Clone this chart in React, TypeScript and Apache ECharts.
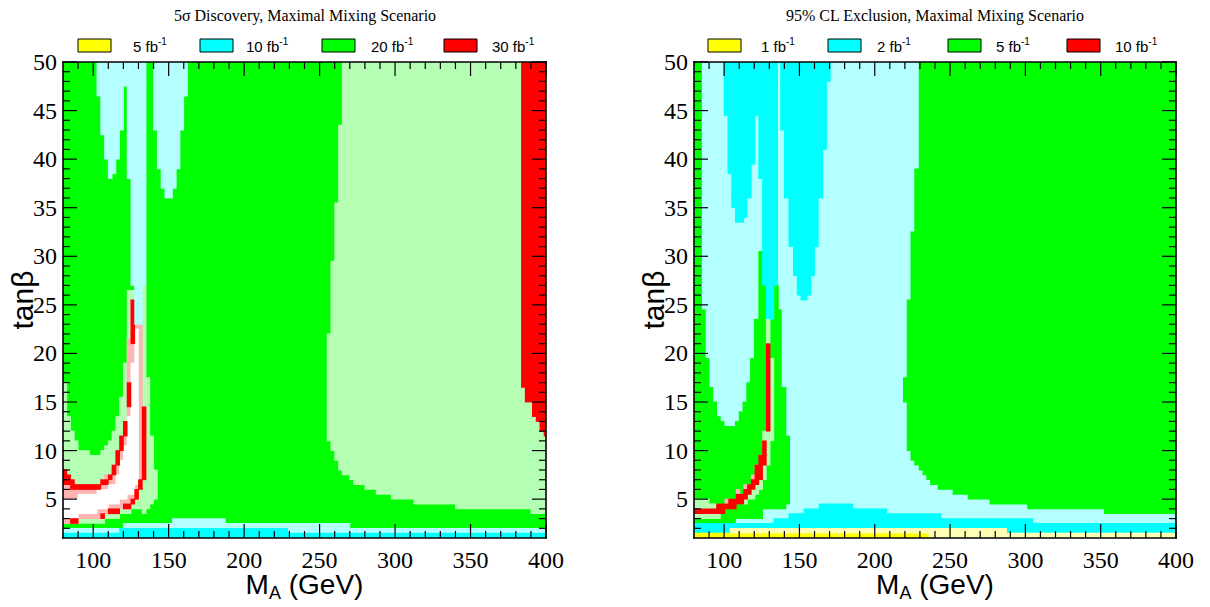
import React, { useEffect, useRef } from "react";
import * as echarts from "echarts";

// ---------- axes ----------
const X_MIN = 80;
const X_MAX = 400;
const Y_MIN = 1;
const Y_MAX = 50;
const X_MAJOR = [100, 150, 200, 250, 300, 350, 400];
const X_MINOR = [90, 110, 120, 130, 140, 160, 170, 180, 190, 210, 220, 230, 240, 260, 270, 280, 290, 310, 320, 330, 340, 360, 370, 380, 390];
const Y_MAJOR = [5, 10, 15, 20, 25, 30, 35, 40, 45, 50];
const Y_MINOR = [2, 3, 4, 6, 7, 8, 9, 11, 12, 13, 14, 16, 17, 18, 19, 21, 22, 23, 24, 26, 27, 28, 29, 31, 32, 33, 34, 36, 37, 38, 39, 41, 42, 43, 44, 46, 47, 48, 49];

const DISC_TITLE = "5σ Discovery, Maximal Mixing Scenario";
const EXCL_TITLE = "95% CL Exclusion, Maximal Mixing Scenario";
const DISC_LEGEND = ["5", "10", "20", "30"]; // fb^-1
const EXCL_LEGEND = ["1", "2", "5", "10"]; // fb^-1

// ---------- regions: [M_A from, M_A to, tanβ from, tanβ to] ----------
const DISC_GREEN = [[80, 400, 1, 50]];
const DISC_LIGHT_GREEN = [
  [265, 400, 43.5, 50], [262.5, 400, 35.5, 43.5], [260, 400, 29.5, 35.5], [257.5, 400, 22, 29.5], [255, 400, 11, 22],
  [257.5, 400, 10, 11], [260, 400, 9, 10], [262.5, 400, 8, 9], [265, 400, 7.5, 8], [270, 400, 7, 7.5], [272.5, 400, 6.5, 7],
  [280, 400, 6, 6.5], [287.5, 400, 5.5, 6], [297.5, 400, 5, 5.5], [312.5, 400, 4.5, 5], [340, 400, 4, 4.5], [390, 400, 3.5, 4],
  [80, 82.5, 2.5, 17], [82.5, 85, 2.5, 13.5], [85, 87.5, 2.5, 12], [87.5, 90, 2.5, 11], [90, 97.5, 2.5, 10], [97.5, 105, 2.5, 9.5],
  [105, 107.5, 2.5, 10], [107.5, 110, 3, 10.5], [110, 112.5, 3, 11], [112.5, 115, 3, 12], [115, 117.5, 3, 13.5], [117.5, 120, 3.5, 15.5],
  [120, 122.5, 3.5, 19], [122.5, 125, 3.5, 26.5], [125, 127.5, 4, 26.5], [127.5, 132.5, 4, 27], [132.5, 135, 3.5, 27],
  [135, 137.5, 4, 17.5], [137.5, 140, 4.5, 11.5], [140, 142.5, 5, 8],
];
const DISC_PINK = [
  [80, 82.5, 2.5, 8], [82.5, 85, 2.5, 7.5], [85, 87.5, 2.5, 7], [87.5, 90, 2.5, 6.5], [90, 105, 3, 6.5], [105, 107.5, 3, 7],
  [107.5, 112.5, 3.5, 7.5], [112.5, 115, 3.5, 8.5], [115, 117.5, 4, 10], [117.5, 120, 4, 11.5], [120, 122.5, 4, 13],
  [122.5, 125, 4, 21.5], [125, 127.5, 4.5, 25.5], [127.5, 130, 5, 23], [130, 132.5, 6, 23],
];
const DISC_WHITE = [
  [80, 90, 3, 5], [90, 102.5, 3.5, 5.5], [102.5, 110, 4, 6], [110, 115, 4.5, 6.5], [115, 117.5, 4.5, 7.5],
  [117.5, 120, 5, 9], [120, 122.5, 5, 10.5], [122.5, 125, 5.5, 13.5], [125, 127.5, 5.5, 19], [127.5, 130, 6.5, 22.5],
];
const DISC_RED = [
  [80, 82.5, 6.5, 8], [82.5, 85, 6.5, 7.5], [85, 87.5, 6, 7], [87.5, 105, 6, 6.5], [105, 110, 6.5, 7], [110, 112.5, 7, 7.5],
  [112.5, 115, 7.5, 8.5], [115, 117.5, 8.5, 10], [117.5, 120, 10, 11.5], [120, 122.5, 11.5, 13], [122.5, 125, 14.5, 17], [125, 127.5, 21, 25.5],
  [85, 90, 2.5, 3], [105, 107.5, 3, 3.5], [110, 117.5, 3.5, 4], [120, 125, 4, 4.5], [125, 127.5, 4.5, 5], [127.5, 130, 5, 6],
  [130, 132.5, 6, 7], [132.5, 135, 7, 14.5],
  [383.75, 400, 16.5, 50], [386.25, 400, 15, 16.5], [391, 400, 13.5, 15], [393.5, 400, 13, 13.5], [396, 400, 12, 13], [398.75, 400, 11.5, 12],
];
const DISC_LIGHT_CYAN = [
  [102.5, 135, 47.5, 50], [102.5, 120, 46.5, 47.5], [105, 120, 43, 46.5], [105, 117.5, 42.5, 43], [107.5, 117.5, 40, 42.5],
  [110, 115, 38.5, 40], [110, 112.5, 38, 38.5],
  [122.5, 135, 38, 47.5], [125, 135, 27, 38], [127.5, 132.5, 23, 27],
  [140, 162.5, 46.5, 50], [140, 160, 43, 46.5], [142.5, 157.5, 39, 43], [145, 155, 37, 39], [147.5, 152.5, 36, 37],
  [80, 117.5, 1.5, 2], [228.75, 400, 1.5, 2], [120, 270, 2, 2.5], [152.5, 187.5, 2.5, 3],
];
const DISC_CYAN = [[80, 400, 1, 1.5], [117.5, 228.75, 1.5, 2]];

const EXCL_LIGHT_CYAN = [[80, 400, 1, 50]];
const EXCL_GREEN = [
  [229.5, 400, 39, 50], [226.5, 400, 32.5, 39], [224, 400, 25.5, 32.5], [221.5, 400, 17.5, 25.5], [219, 400, 15, 17.5], [221.5, 400, 10, 15],
  [224, 400, 9, 10], [226.5, 400, 8.5, 9], [229.5, 400, 8, 8.5], [232, 400, 7.5, 8], [234.5, 400, 7, 7.5], [237, 400, 6.5, 7],
  [242, 400, 6, 6.5], [252, 400, 5.5, 6], [262, 400, 5, 5.5], [276.5, 400, 4.5, 5], [301.5, 400, 4, 4.5], [352.5, 400, 3.5, 4],
  [80, 85, 2.5, 50], [85, 87.5, 2.5, 24.5], [87.5, 90, 2.5, 19.5], [90, 92.5, 2.5, 16.5], [92.5, 95, 2.5, 15], [95, 97.5, 2.5, 13.5],
  [97.5, 100, 2.5, 13], [100, 107.5, 2.5, 12.5], [107.5, 110, 3, 13], [110, 112.5, 3, 14], [112.5, 115, 3, 15], [115, 117.5, 3, 17],
  [117.5, 120, 3, 19.5], [120, 123, 3, 23.5], [123, 125.5, 3, 30.5], [125.5, 128, 4, 27], [128, 133, 4, 23.5], [133, 136, 4, 27],
  [136, 138, 4, 24.5], [138, 141, 4, 16.5], [141, 143.5, 4.5, 11.5],
];
const EXCL_CYAN = [
  [100, 135.5, 44.5, 50], [102.5, 120.5, 39.5, 44.5], [102.5, 118, 38.5, 39.5], [105, 118, 36, 38.5], [105, 115, 35, 36],
  [107.5, 115, 34, 35], [107.5, 113, 33.5, 34],
  [123, 135.5, 38, 44.5], [125.5, 135.5, 27, 38], [128, 133, 23.5, 27],
  [137.5, 170.5, 48, 50], [137.5, 168, 43, 48], [140, 168, 41, 43], [140, 165.5, 36, 41], [143, 162.5, 31, 36],
  [146, 160, 28, 31], [148.5, 157.5, 26, 28], [151, 155, 25.5, 26],
  [80, 104, 1.5, 2], [287.5, 400, 1.5, 2], [80, 400, 2, 2.5], [133, 305, 2.5, 3], [143, 244, 3, 3.5],
  [153, 208, 3.5, 4], [163, 185.5, 4, 4.5],
];
const EXCL_LIGHT_GREEN = [
  [128, 130.5, 21, 23.5], [130.5, 133, 11, 19.5], [125.5, 130.5, 10.5, 12],
  [128, 130.5, 8.5, 10.5], [125.5, 128, 7, 9.5], [123, 125.5, 6, 8.5], [120.5, 123, 5.5, 7], [115.5, 120.5, 5, 6], [110, 115.5, 4.5, 5.5],
  [80, 97.5, 3, 3.5], [80, 95, 4, 4.5], [80, 90, 4.5, 5],
];
const EXCL_PINK = [
  [120.5, 123, 8, 8.5], [118, 120.5, 7, 7.5], [113, 115.5, 6, 6.5], [108, 110.5, 5.5, 6], [100.5, 103, 4.5, 5],
];
const EXCL_RED = [
  [128, 130.5, 12, 21],
  [125.5, 128, 9.5, 11], [123, 128, 8.5, 9.5], [120.5, 125.5, 7, 8.5], [118, 123, 6.5, 7], [115.5, 120.5, 6, 6.5],
  [113, 118, 5.5, 6], [108, 115.5, 5, 5.5], [103, 113, 4.5, 5], [95, 108, 4, 4.5], [80, 100.5, 3.5, 4],
];
const EXCL_YELLOW = [[80, 236, 1, 1.5]];
const EXCL_LIGHT_YELLOW = [[236, 400, 1, 1.5], [104, 287.5, 1.5, 2]];

// ---------- styles ----------
const COLORS = {
  green: "#00ff00", lightGreen: "#b4ffb4", cyan: "#00ffff", lightCyan: "#b4ffff", red: "#ff0000",
  pink: "#ffb4b4", white: "#ffffff", yellow: "#ffff00", lightYellow: "#ffffb4",
};
const SERIF = "'Liberation Serif', 'Times New Roman', serif";
const SANS = "'Liberation Sans', Arial, sans-serif";

const GRIDS = [
  { left: 63, top: 62, width: 483, height: 484 },
  { left: 694, top: 62, width: 482, height: 484 },
];

function rectSeries(data: number[][], color: string, axisIndex: number) {
  return {
    type: "custom", xAxisIndex: axisIndex, yAxisIndex: axisIndex, data,
    encode: { x: [0, 1], y: [2, 3] }, silent: true, clip: true, z: 2,
    renderItem: (_params: any, api: any) => {
      const p0 = api.coord([api.value(0), api.value(3)]);
      const p1 = api.coord([api.value(1), api.value(2)]);
      return {
        type: "rect",
        shape: { x: p0[0] - 0.4, y: p0[1] - 0.4, width: p1[0] - p0[0] + 0.8, height: p1[1] - p0[1] + 0.8 },
        style: { fill: color },
      };
    },
  };
}

// ticks (kind 0: x major, 1: x minor, 2: y major, 3: y minor) and the frame (kind 4), drawn as thin filled bars
function frameSeries(axisIndex: number) {
  const data: number[][] = [];
  X_MAJOR.forEach((v) => data.push([v, 0]));
  X_MINOR.forEach((v) => data.push([v, 1]));
  Y_MAJOR.forEach((v) => data.push([v, 2]));
  Y_MINOR.forEach((v) => data.push([v, 3]));
  data.push([0, 4]);
  return {
    type: "custom", xAxisIndex: axisIndex, yAxisIndex: axisIndex, data, silent: true, clip: false, z: 20,
    encode: { x: 0 },
    renderItem: (params: any, api: any) => {
      const cs = params.coordSys;
      const v = api.value(0);
      const kind = api.value(1);
      const fill = { fill: "#000" };
      const w = 1.2;
      const fw = 1.6;
      if (kind === 4) {
        return {
          type: "group",
          children: [
            { type: "rect", shape: { x: cs.x - fw / 2, y: cs.y - fw / 2, width: cs.width + fw, height: fw }, style: fill },
            { type: "rect", shape: { x: cs.x - fw / 2, y: cs.y + cs.height - fw / 2, width: cs.width + fw, height: fw }, style: fill },
            { type: "rect", shape: { x: cs.x - fw / 2, y: cs.y - fw / 2, width: fw, height: cs.height + fw }, style: fill },
            { type: "rect", shape: { x: cs.x + cs.width - fw / 2, y: cs.y - fw / 2, width: fw, height: cs.height + fw }, style: fill },
          ],
        };
      }
      if (kind <= 1) {
        const len = kind === 0 ? 14 : 7;
        const px = api.coord([v, Y_MIN])[0];
        const yb = cs.y + cs.height;
        return {
          type: "group",
          children: [
            { type: "rect", shape: { x: px - w / 2, y: yb - len, width: w, height: len }, style: fill },
            { type: "rect", shape: { x: px - w / 2, y: cs.y, width: w, height: len }, style: fill },
          ],
        };
      }
      const len = kind === 2 ? 14 : 7;
      const py = api.coord([X_MIN, v])[1];
      const xr = cs.x + cs.width;
      return {
        type: "group",
        children: [
          { type: "rect", shape: { x: cs.x, y: py - w / 2, width: len, height: w }, style: fill },
          { type: "rect", shape: { x: xr - len, y: py - w / 2, width: len, height: w }, style: fill },
        ],
      };
    },
  };
}

function axesFor(g: number) {
  const base = { gridIndex: g, type: "value", splitLine: { show: false }, axisLine: { show: false }, axisTick: { show: false }, axisLabel: { show: false } };
  const x = {
    ...base, min: X_MIN, max: X_MAX, position: "bottom",
    name: "{m|M}{s|A}{m| (GeV)}", nameLocation: "middle", nameGap: 28,
    nameTextStyle: {
      color: "#000", fontFamily: SANS, fontSize: 28,
      rich: {
        m: { fontFamily: SANS, fontSize: 28, color: "#000" },
        s: { fontFamily: SANS, fontSize: 18, color: "#000", padding: [18, 0, 0, 0] },
      },
    },
  };
  const y = {
    ...base, min: Y_MIN, max: Y_MAX, position: "left",
    name: "tanβ", nameLocation: "middle", nameGap: 26,
    nameTextStyle: { color: "#000", fontFamily: SANS, fontSize: 30 },
  };
  return { x, y };
}

function legendGraphics(labels: string[], colors: string[], boxX: number[], textX: number[]) {
  const els: any[] = [];
  labels.forEach((lab, i) => {
    els.push({ type: "rect", shape: { x: boxX[i], y: 39, width: 33, height: 13 }, style: { fill: colors[i], stroke: "#000", lineWidth: 1 }, silent: true });
    els.push({
      type: "text", x: textX[i], y: 46, silent: true,
      style: {
        text: `{a|${lab} fb}{b|-1}`, align: "left", verticalAlign: "middle", fill: "#000",
        rich: {
          a: { fontFamily: SANS, fontSize: 15, fill: "#000", color: "#000" },
          b: { fontFamily: SANS, fontSize: 10, fill: "#000", color: "#000", padding: [0, 0, 9, 0] },
        },
      },
    });
  });
  return els;
}

export default function App() {
  const ref = useRef<HTMLDivElement>(null);
  useEffect(() => {
    if (!ref.current) return;
    document.body.style.margin = "0";
    const chart = echarts.init(ref.current, undefined, { renderer: "svg" });
    const a0 = axesFor(0);
    const a1 = axesFor(1);
    const legendColors = [COLORS.yellow, COLORS.cyan, COLORS.green, COLORS.red];
    const series = [
      rectSeries(DISC_GREEN, COLORS.green, 0),
      rectSeries(DISC_LIGHT_GREEN, COLORS.lightGreen, 0),
      rectSeries(DISC_PINK, COLORS.pink, 0),
      rectSeries(DISC_WHITE, COLORS.white, 0),
      rectSeries(DISC_RED, COLORS.red, 0),
      rectSeries(DISC_LIGHT_CYAN, COLORS.lightCyan, 0),
      rectSeries(DISC_CYAN, COLORS.cyan, 0),
      frameSeries(0),
      rectSeries(EXCL_LIGHT_CYAN, COLORS.lightCyan, 1),
      rectSeries(EXCL_GREEN, COLORS.green, 1),
      rectSeries(EXCL_CYAN, COLORS.cyan, 1),
      rectSeries(EXCL_LIGHT_GREEN, COLORS.lightGreen, 1),
      rectSeries(EXCL_PINK, COLORS.pink, 1),
      rectSeries(EXCL_RED, COLORS.red, 1),
      rectSeries(EXCL_YELLOW, COLORS.yellow, 1),
      rectSeries(EXCL_LIGHT_YELLOW, COLORS.lightYellow, 1),
      frameSeries(1),
    ];
    chart.setOption({
      animation: false,
      backgroundColor: "#ffffff",
      grid: GRIDS.map((g) => ({ ...g, containLabel: false })),
      xAxis: [a0.x, a1.x],
      yAxis: [a0.y, a1.y],
      series,
    });

    // tick labels placed through the axes' own scales
    const tickLabels: any[] = [];
    [0, 1].forEach((g) => {
      const grid = GRIDS[g];
      const bottom = grid.top + grid.height;
      X_MAJOR.forEach((v) => {
        const px = chart.convertToPixel({ xAxisIndex: g }, v) as number;
        tickLabels.push({
          type: "text", x: px, y: bottom + 14, silent: true,
          style: { text: String(v), font: `24px ${SERIF}`, fill: "#000", align: "center", verticalAlign: "middle" },
        });
      });
      Y_MAJOR.forEach((v) => {
        const py = chart.convertToPixel({ yAxisIndex: g }, v) as number;
        tickLabels.push({
          type: "text", x: grid.left - 6, y: py, silent: true,
          style: { text: String(v), font: `24px ${SERIF}`, fill: "#000", align: "right", verticalAlign: "middle" },
        });
      });
    });

    chart.setOption({
      graphic: [
        { type: "text", x: 305, y: 15, silent: true, style: { text: DISC_TITLE, font: `16px ${SERIF}`, fill: "#000", align: "center", verticalAlign: "middle" } },
        { type: "text", x: 935, y: 15, silent: true, style: { text: EXCL_TITLE, font: `16px ${SERIF}`, fill: "#000", align: "center", verticalAlign: "middle" } },
        ...legendGraphics(DISC_LEGEND, legendColors, [78, 200, 322, 444], [133, 246, 371, 492]),
        ...legendGraphics(EXCL_LEGEND, legendColors, [708, 828, 948, 1067], [761, 877, 996, 1115]),
        ...tickLabels,
      ],
    });
    return () => chart.dispose();
  }, []);
  return <div ref={ref} style={{ position: "absolute", left: 0, top: 0, width: 1210, height: 607 }} />;
}
